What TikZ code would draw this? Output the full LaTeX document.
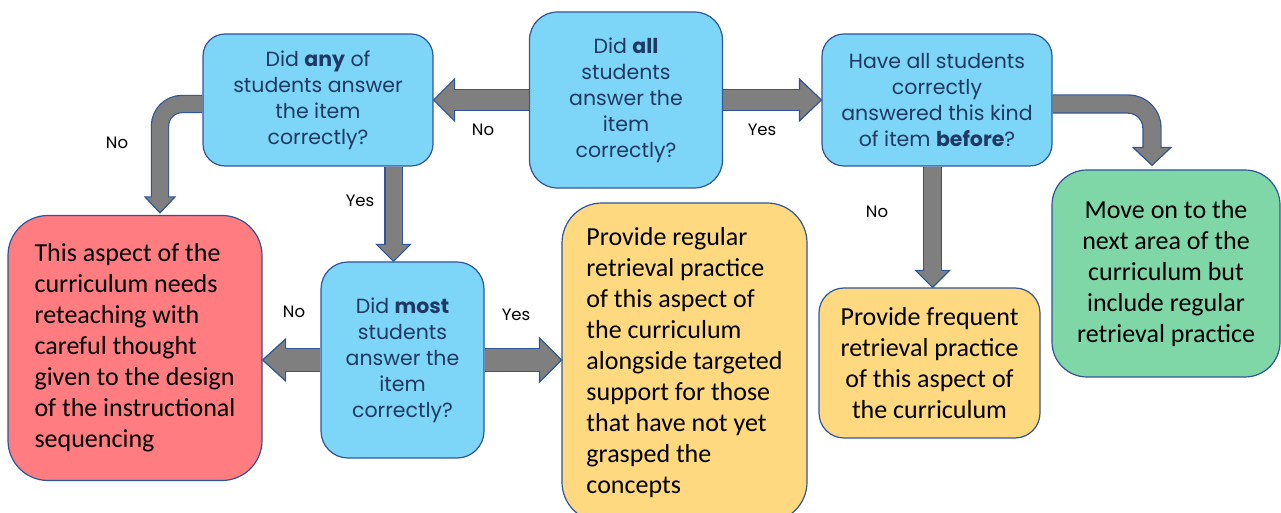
\documentclass[tikz,border=0pt]{standalone}
\usepackage{fontspec}
\setmainfont{Carlito}
\newfontfamily\gothic{Poppins}
\usetikzlibrary{calc}

\definecolor{boxblue}{HTML}{7DD6F7}
\definecolor{boxred}{HTML}{FF7C80}
\definecolor{boxyellow}{HTML}{FFD97F}
\definecolor{boxgreen}{HTML}{7FD6A6}
\definecolor{edgeblue}{HTML}{2F5597}
\definecolor{textnavy}{HTML}{1F3864}
\definecolor{arrgray}{HTML}{7F7F7F}

% arrow heads: tip, shaft half width, head half width, head length
\newcommand{\headleft}[4]{\draw[arrhead] ($(#1)+(#4,#2)$) -- ++(0,#3-#2) -- (#1) -- ++(#4,-#3) -- ++(0,#3-#2);}
\newcommand{\headright}[4]{\draw[arrhead] ($(#1)+(-#4,#2)$) -- ++(0,#3-#2) -- (#1) -- ++(-#4,-#3) -- ++(0,#3-#2);}
\newcommand{\headdown}[4]{\draw[arrhead] ($(#1)+(#2,#4)$) -- ++(#3-#2,0) -- (#1) -- ++(-#3,#4) -- ++(#3-#2,0);}

\begin{document}
\begin{tikzpicture}[x=1pt, y=1pt,
	box/.style={draw=edgeblue, line width=1.2pt, align=center, inner sep=0pt},
	ask/.style={box, fill=boxblue, text=textnavy, font=\gothic\fontsize{20.5}{26}\selectfont},
	act/.style={box, text=black, font=\fontsize{26}{31}\selectfont},
	shaft/.style={draw=arrgray, line width=#1, preaction={draw=edgeblue, line width=#1+2.4pt}},
	arrhead/.style={fill=arrgray, draw=edgeblue, line width=1.2pt, line join=miter},
	lbl/.style={font=\gothic\fontsize{16.5}{20}\selectfont}]
		\useasboundingbox (0,0) rectangle (1281,513);
		\node[ask, minimum width=193pt, minimum height=176pt, rounded corners=28pt] (all)at(626,413) {Did \textbf{all}\\students\\answer the\\item\\correctly?};
		\node[ask, minimum width=230pt, minimum height=132pt, rounded corners=22pt] (any)at(318,413) {Did \textbf{any} of\\students answer\\the item\\correctly?};
		\node[ask, minimum width=230pt, minimum height=132pt, rounded corners=22pt] (before)at(937,413) {Have all students\\correctly\\answered this kind\\of item \textbf{before}?};
		\node[ask, minimum width=163pt, minimum height=196pt, rounded corners=27pt] (most)at(402.5,153) {Did \textbf{most}\\students\\answer the\\item\\correctly?};
		\node[act, fill=boxred, align=left, minimum width=254pt, minimum height=265pt, rounded corners=40pt] (reteach)at(135,165) {This aspect of the\\curriculum needs\\reteaching with\\careful thought\\given to the design\\of the instructional\\sequencing};
		\node[act, fill=boxyellow, align=left, minimum width=245pt, minimum height=319pt, rounded corners=40pt] (regular)at(684.5,150.5) {Provide regular\\retrieval practice\\of this aspect of\\the curriculum\\alongside targeted\\support for those\\that have not yet\\grasped the\\concepts};
		\node[act, fill=boxyellow, minimum width=221pt, minimum height=150pt, rounded corners=25pt] (frequent)at(929.5,150) {Provide frequent\\retrieval practice\\of this aspect of\\the curriculum};
		\node[act, fill=boxgreen, minimum width=228pt, minimum height=207pt, rounded corners=35pt] (moveon)at(1166,239.5) {Move on to the\\next area of the\\curriculum but\\include regular\\retrieval practice};
		\coordinate (dtip)at($(reteach.north)+(25,2)$);
		\coordinate (etip)at($(most.north)+(-9,0)$);
		\coordinate (dleft)at(reteach.east |- most.west);
		\coordinate (fleft)at(regular.west |- most.east);
		\coordinate (gtip)at($(frequent.north)+(3,0)$);
		\coordinate (htip)at($(moveon.north)+(-14,4)$);
		\draw[shaft=20pt] (all.west) -- ($(any.east)+(20,0)$);
		\headleft{any.east}{10}{21}{21}
		\draw[shaft=20pt] (all.east) -- ($(before.west)+(-21,0)$);
		\headright{before.west}{10}{21}{22}
		\draw[shaft=16pt, rounded corners=22pt] ($(any.west)+(0,-4)$) -| ($(dtip)+(0,15)$);
		\headdown{dtip}{8}{15}{16}
		\draw[shaft=16pt] (any.south -| etip) -- ($(etip)+(0,16)$);
		\headdown{etip}{8}{17}{17}
		\draw[shaft=22pt] (most.west) -- ($(dleft)+(22,0)$);
		\headleft{dleft}{11}{21}{23}
		\draw[shaft=22pt] (most.east) -- ($(fleft)+(-21,0)$);
		\headright{fleft}{11}{22}{22}
		\draw[shaft=17pt] (before.south -| gtip) -- ($(gtip)+(0,16)$);
		\headdown{gtip}{8.5}{17}{17}
		\draw[shaft=17pt, rounded corners=24pt] ($(before.east)+(0,-4)$) -| ($(htip)+(0,17)$);
		\headdown{htip}{8.5}{19}{18}
		\node[lbl] (noany)at(117,370) {No};
		\node[lbl] (noall)at(483,383) {No};
		\node[lbl] (yesall)at(762,383) {Yes};
		\node[lbl] (yesany)at(360,312) {Yes};
		\node[lbl] (nomost)at(294,201) {No};
		\node[lbl] (yesmost)at(516,198) {Yes};
		\node[lbl] (nobefore)at(877,301) {No};
	\end{tikzpicture}
\end{document}
